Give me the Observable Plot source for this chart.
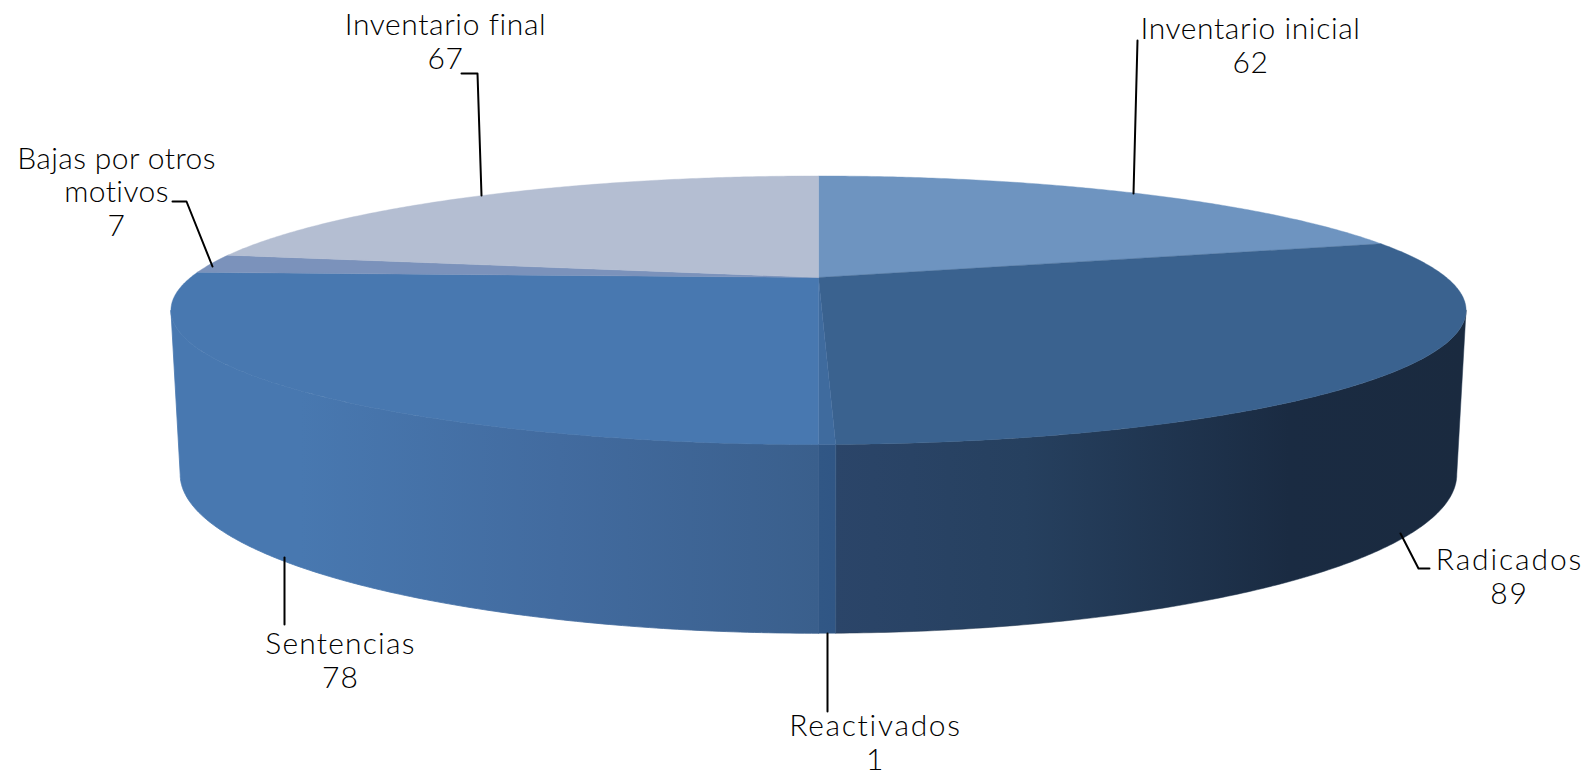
<!DOCTYPE html>
<html>
<head>
<meta charset="utf-8">
<script src="https://cdn.jsdelivr.net/npm/d3@7"></script>
<script src="https://cdn.jsdelivr.net/npm/@observablehq/plot@0.6"></script>
<style>
html,body{margin:0;padding:0;background:#fff;}
svg{display:block;}
</style>
</head>
<body>
<div id="chart"></div>
<script>
const categories = ["Inventario inicial","Radicados","Reactivados","Sentencias","Bajas por otros motivos","Inventario final"];
const values = [62,89,1,78,7,67];
const labelLines = ["Inventario inicial","Radicados","Reactivados","Sentencias","Bajas por otros\nmotivos","Inventario final"];
const topColors = ["#6e94c0","#3a628f","#3f6b9e","#4878b0","#7b92bb","#b4bed2"];

const W = 1590, H = 773;
const total = d3.sum(values);
let acc = 0;
const slices = categories.map((name,i)=>{
  const start = acc/total*360; acc += values[i];
  return {name, value:values[i], start, end:acc/total*360, color:topColors[i], i};
});

const k = 0.244;
const topRim = {cx:818, cy:277, a:628, b:126.3};
const lowRim = {cx:818, cy:435, a:619, b:149.5};
const project = (deg, r) => {
  const t = deg*Math.PI/180, u = Math.sin(t), v = Math.cos(t), d = 1 + k*v;
  return {x:r.cx + r.a*u/d, y:r.cy - r.b*v/d};
};
const arc = (a0,a1,r) => {
  const n = Math.max(2, Math.ceil(Math.abs(a1-a0)/0.5));
  return d3.range(n+1).map(i=>project(a0+(a1-a0)*i/n, r));
};
const silR = Math.acos(-k)*180/Math.PI, silL = 360 - silR;

const topPoly = slices.flatMap(s=>[
  {x:topRim.cx,y:topRim.cy,z:s.name},
  ...arc(s.start,s.end,topRim).map(p=>({...p,z:s.name})),
  {x:topRim.cx,y:topRim.cy,z:s.name}
]);
const sidePoly = (a0,a1)=>[...arc(a0,a1,topRim),...arc(a1,a0,lowRim)];
const [sRad,sRea,sSen] = [slices[1],slices[2],slices[3]];
const sideRad = sidePoly(silR,sRad.end), sideRea = sidePoly(sRea.start,sRea.end), sideSen = sidePoly(sSen.start,silL);

const defs = () => {
  const d = d3.create("svg:defs");
  const g = (id,stops)=>{
    const l = d.append("linearGradient").attr("id",id).attr("x1","0").attr("x2","1").attr("y1","0").attr("y2","0");
    stops.forEach(([o,c])=>l.append("stop").attr("offset",o).attr("stop-color",c));
  };
  g("gSen",[[0,"#4878b0"],[0.2,"#4878b0"],[0.6,"#426b9f"],[1,"#3a5f8c"]]);
  g("gRea",[[0,"#315785"],[1,"#305685"]]);
  g("gRad",[[0,"#2b4569"],[0.3,"#26405f"],[0.72,"#1a2b42"],[1,"#1a2a3f"]]);
  return d.node();
};

const labels = slices.map((s,i)=>({text:labelLines[i]+"\n"+s.value, ...[
  {x:1250,y:44.5},{x:1509,y:576},{x:875,y:742},{x:340,y:660},{x:116,y:191},{x:445,y:40.5}
][i]}));
const spacing = [0.6,1.9,1.7,1.2,0.4,0.6];
const leaders = [
  [[1137,40],[1133,193]],
  [[1400,533],[1418,568],[1429,568]],
  [[827,633],[827,711]],
  [[284,557],[284,624]],
  [[172,201],[186,201],[212,266]],
  [[461,73],[477,73],[481,195]]
].flatMap((pts,i)=>pts.map(([x,y])=>({x,y,z:i})));

const chart = Plot.plot({
  width:W, height:H, margin:0,
  x:{domain:[0,W],range:[0,W],axis:null},
  y:{domain:[0,H],range:[0,H],axis:null},
  marks:[
    defs,
    Plot.line(sideRad,{x:"x",y:"y",fill:"url(#gRad)",stroke:"#22374f",strokeWidth:0.5,curve:"linear-closed"}),
    Plot.line(sideSen,{x:"x",y:"y",fill:"url(#gSen)",stroke:"url(#gSen)",strokeWidth:0.8,curve:"linear-closed"}),
    Plot.line(sideRea,{x:"x",y:"y",fill:"url(#gRea)",stroke:"#305685",strokeWidth:0.5,curve:"linear-closed"}),
    ...slices.map(s=>Plot.line(topPoly.filter(p=>p.z===s.name),{x:"x",y:"y",fill:s.color,stroke:s.color,strokeWidth:0.4,curve:"linear-closed"})),
    Plot.line(leaders,{x:"x",y:"y",z:"z",stroke:"#000",strokeWidth:2,curve:"linear"}),
    Plot.text(labels,{x:"x",y:"y",text:"text",fontSize:30,lineHeight:1.125,lineAnchor:"middle",fill:"#000",fontFamily:"Lato, sans-serif",fontWeight:300})
  ]
});
const labelNodes = [...chart.querySelectorAll("text")];
labelNodes.forEach((t,i)=>{ t.style.letterSpacing = spacing[i]+"px"; });
document.getElementById("chart").append(chart);
</script>
</body>
</html>
